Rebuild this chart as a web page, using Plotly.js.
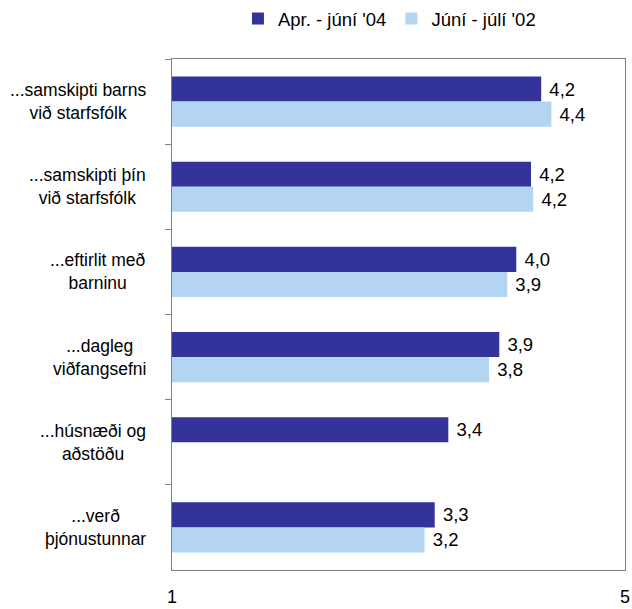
<!DOCTYPE html>
<html>
<head>
<meta charset="utf-8">
<script src="https://cdn.plot.ly/plotly-3.0.1.min.js"></script>
<style>html,body{margin:0;padding:0;background:#fff;}#chart{width:632px;height:609px;}</style>
</head>
<body>
<div id="chart"></div>
<script>
const categories = [
  "...samskipti barns<br>við starfsfólk",
  "...samskipti þín<br>við starfsfólk",
  "...eftirlit með<br>barninu",
  "...dagleg<br>viðfangsefni",
  "...húsnæði og<br>aðstöðu",
  "...verð<br>þjónustunnar"
];
const seriesNames = ["Apr. - júní '04", "Júní - júlí '02"];
const values04 = [4.26, 4.17, 4.04, 3.89, 3.44, 3.32];
const values02 = [4.35, 4.19, 3.96, 3.80, null, 3.23];
const labels04 = ["4,2", "4,2", "4,0", "3,9", "3,4", "3,3"];
const labels02 = ["4,4", "4,2", "3,9", "3,8", "", "3,2"];
const xTicks = [1, 5];

const FONT = "'Liberation Sans', Arial, sans-serif";

const traces = [
  {type:'bar', orientation:'h', name:seriesNames[0], y:categories, x:values04,
   marker:{color:'#333399'}, text:labels04.map(s=>' '+s), textposition:'outside',
   textfont:{size:18.5, color:'#000', family:FONT}, cliponaxis:false, hoverinfo:'none'},
  {type:'bar', orientation:'h', name:seriesNames[1], y:categories, x:values02,
   marker:{color:'#b3d5f2'}, text:labels02.map(s=>' '+s), textposition:'outside',
   textfont:{size:18.5, color:'#000', family:FONT}, cliponaxis:false, hoverinfo:'none'}
];

const annotations = categories.map(c => ({
  xref:'paper', yref:'y', x:-0.053, y:c, text:c, showarrow:false,
  xanchor:'right', yanchor:'middle', align:'center',
  font:{size:17.5, color:'#000', family:FONT}
}));

const layout = {
  width:632, height:609,
  margin:{l:172, r:7, t:59, b:39},
  paper_bgcolor:'#fff', plot_bgcolor:'#fff',
  font:{family:FONT, size:18, color:'#000'},
  barmode:'group', bargap:0.41, bargroupgap:0,
  showlegend:true,
  legend:{orientation:'h', x:0.48, xanchor:'center', yref:'container', y:1.0, yanchor:'top',
          font:{size:18.5, family:FONT}, itemwidth:30, traceorder:'normal'},
  xaxis:{range:[1,5], tickvals:xTicks, ticktext:xTicks.map(String), showgrid:false, zeroline:false,
         showline:true, linecolor:'#808080', linewidth:1, mirror:true, ticks:'',
         ticklabelstandoff:10, tickfont:{size:18, family:FONT}, fixedrange:true},
  yaxis:{type:'category', autorange:'reversed', showticklabels:false, tickson:'boundaries',
         ticks:'outside', ticklen:6, tickcolor:'#808080', showline:true, linecolor:'#808080',
         linewidth:1, mirror:true, showgrid:false, zeroline:false, fixedrange:true},
  annotations:annotations
};

Plotly.newPlot('chart', traces, layout, {displayModeBar:false, staticPlot:true});
</script>
</body>
</html>
